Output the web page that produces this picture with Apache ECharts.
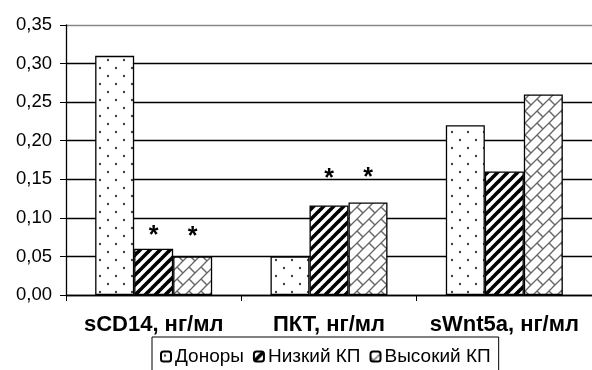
<!DOCTYPE html>
<html><head><meta charset="utf-8">
<script src="https://cdn.jsdelivr.net/npm/echarts@6/dist/echarts.min.js"></script>
<style>html,body{margin:0;padding:0;background:#fff}#c{width:592px;height:370px}</style>
</head><body><div id="c"></div>
<script>
const categories = ['sCD14, нг/мл', 'ПКТ, нг/мл', 'sWnt5a, нг/мл'];
const seriesNames = ['Доноры', 'Низкий КП', 'Высокий КП'];
const donors = [0.31, 0.05, 0.22];
const lowKP = [0.06, 0.116, 0.16];
const highKP = [0.05, 0.12, 0.26];
const lowStar = [true, true, false];
const highStar = [true, true, false];
const yTicks = [0, 0.05, 0.10, 0.15, 0.20, 0.25, 0.30, 0.35];

function tile(size, draw) {
  const c = document.createElement('canvas');
  c.width = size; c.height = size;
  const g = c.getContext('2d');
  g.fillStyle = '#fff'; g.fillRect(0, 0, size, size);
  draw(g, size);
  return c;
}
const dotTile = tile(16, (g) => {
  g.fillStyle = '#444';
  [[4,4],[12,12]].forEach(([x,y]) => { g.beginPath(); g.arc(x, y, 1.2, 0, Math.PI*2); g.fill(); });
});
const stripeTile = tile(10, (g, T) => {
  g.strokeStyle = '#000'; g.lineWidth = 3.6;
  for (const o of [-T, 0, T]) { g.beginPath(); g.moveTo(o - 2, T + 2); g.lineTo(o + T + 2, -2); g.stroke(); }
});
const brickTile = tile(12, (g, T) => {
  g.strokeStyle = '#666'; g.lineWidth = 1.3;
  for (const dx of [-T, 0, T]) for (const dy of [-T, 0, T]) {
    g.beginPath(); g.moveTo(dx, dy + T); g.lineTo(dx + T, dy); g.stroke();
    g.beginPath(); g.moveTo(dx + 0.75*T, dy + 0.25*T); g.lineTo(dx + 1.25*T, dy + 0.75*T); g.stroke();
  }
});
const pat = (c) => ({ image: c, repeat: 'repeat' });

const starDist = { low: [0, 14, 0], high: [7, 12, 0] };
function makeData(vals, stars, dists) {
  return vals.map((v, i) => ({
    value: v,
    label: stars[i] ? { show: true, formatter: '*', position: 'top', distance: dists[i],
      fontSize: 25, fontWeight: 'bold', color: '#000', fontFamily: 'Liberation Sans' } : { show: false }
  }));
}
const baseItem = { borderColor: '#000', borderWidth: 1.3 };
const chart = echarts.init(document.getElementById('c'), null, { renderer: 'canvas' });
chart.setOption({
  animation: false,
  textStyle: { fontFamily: 'Liberation Sans' },
  grid: { left: 66, right: -6, top: 25, bottom: 75, containLabel: false },
  legend: {
    data: seriesNames, left: 152, top: 337, orient: 'horizontal',
    borderColor: '#000', borderWidth: 1, padding: [10, 8, 20, 8],
    itemGap: 9, itemWidth: 10, itemHeight: 10,
    textStyle: { fontSize: 19, color: '#000', fontFamily: 'Liberation Sans', padding: [0, 0, 0, -1] }
  },
  xAxis: {
    type: 'category', data: categories,
    axisLine: { lineStyle: { color: '#000', width: 1.3 } },
    axisTick: { show: true, length: 6, lineStyle: { color: '#000' } },
    axisLabel: { fontSize: 22, fontWeight: 'bold', color: '#000', margin: 19, interval: 0 }
  },
  yAxis: {
    type: 'value', min: 0, max: 0.35, interval: 0.05,
    axisLine: { show: true, lineStyle: { color: '#000', width: 1.3 } },
    axisTick: { show: true, length: 6, lineStyle: { color: '#000' } },
    axisLabel: { fontSize: 18.5, color: '#000', margin: 14,
      formatter: (v) => yTicks.includes(Math.round(v*100)/100) ? v.toFixed(2).replace('.', ',') : '' },
    splitLine: { lineStyle: { color: ['#000','#000','#000','#000','#000','#000','#000','#888'], width: 1.3 } }
  },
  series: [
    { name: seriesNames[0], type: 'bar', barWidth: 39, barGap: '0%', data: makeData(donors, [false,false,false], [0,0,0]),
      itemStyle: Object.assign({ color: pat(dotTile) }, baseItem) },
    { name: seriesNames[1], type: 'bar', barWidth: 39, barGap: '0%', data: makeData(lowKP, lowStar, starDist.low),
      itemStyle: Object.assign({ color: pat(stripeTile) }, baseItem) },
    { name: seriesNames[2], type: 'bar', barWidth: 39, barGap: '0%', data: makeData(highKP, highStar, starDist.high),
      itemStyle: Object.assign({ color: pat(brickTile) }, baseItem) }
  ]
});
</script></body></html>
